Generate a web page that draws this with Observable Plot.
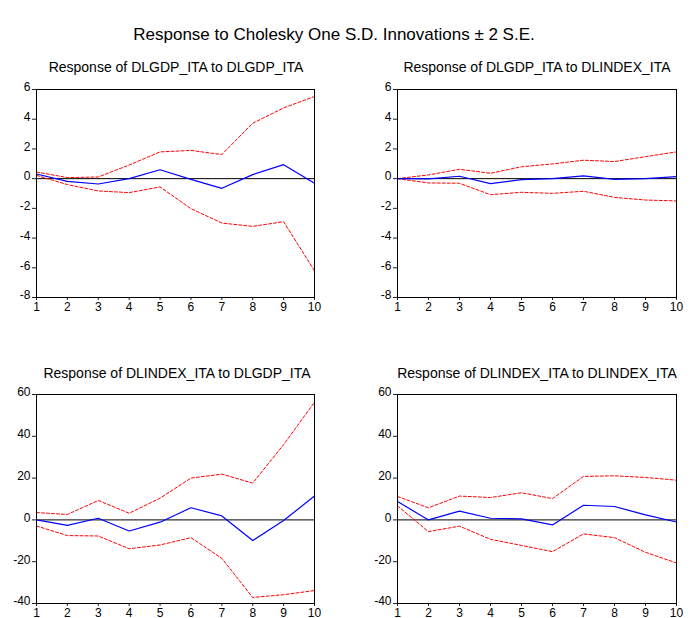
<!DOCTYPE html>
<html>
<head>
<meta charset="utf-8">
<script src="https://cdn.jsdelivr.net/npm/d3@7"></script>
<script src="https://cdn.jsdelivr.net/npm/@observablehq/plot@0.6"></script>
<style>
  html, body { margin: 0; padding: 0; background: white; }
  #root { position: relative; width: 691px; height: 618px; overflow: hidden; background: white; font-family: "Liberation Sans", Arial, sans-serif; color: #000; }
  .t { position: absolute; white-space: nowrap; transform: translate(-50%, -50%); }
  .panel { position: absolute; }
</style>
</head>
<body>
<div id="root"></div>
<script>
const mainTitle = "Response to Cholesky One S.D. Innovations \u00B1 2 S.E.";
const panelTitles = [
  "Response of DLGDP_ITA to DLGDP_ITA",
  "Response of DLGDP_ITA to DLINDEX_ITA",
  "Response of DLINDEX_ITA to DLGDP_ITA",
  "Response of DLINDEX_ITA to DLINDEX_ITA"
];
const horizon = [1, 2, 3, 4, 5, 6, 7, 8, 9, 10];

const gdpGdpResp  = [0.31, -0.18, -0.36, 0.0, 0.6, -0.05, -0.65, 0.27, 0.94, -0.31];
const gdpGdpUpper = [0.45, 0.07, 0.11, 0.92, 1.8, 1.9, 1.62, 3.73, 4.76, 5.53];
const gdpGdpLower = [0.22, -0.4, -0.83, -0.94, -0.56, -2.02, -2.99, -3.21, -2.9, -6.2];

const gdpIdxResp  = [0.0, -0.02, 0.16, -0.34, -0.07, 0.0, 0.18, -0.05, 0.0, 0.13];
const gdpIdxUpper = [0.0, 0.25, 0.63, 0.36, 0.8, 0.99, 1.24, 1.15, 1.48, 1.8];
const gdpIdxLower = [0.0, -0.29, -0.31, -1.08, -0.92, -0.99, -0.85, -1.26, -1.44, -1.5];

const idxGdpResp  = [0.0, -2.6, 0.8, -5.3, -1.1, 5.8, 1.9, -9.9, -0.3, 11.4];
const idxGdpUpper = [3.5, 2.6, 9.3, 3.2, 10.4, 20.0, 21.9, 17.6, 36.0, 56.3];
const idxGdpLower = [-2.9, -7.5, -7.7, -13.8, -12.0, -8.5, -18.4, -37.1, -35.8, -33.8];

const idxIdxResp  = [8.8, 0.0, 4.2, 0.8, 0.5, -2.4, 7.0, 6.4, 2.4, -1.0];
const idxIdxUpper = [11.2, 5.8, 11.4, 10.7, 13.0, 10.2, 20.8, 21.1, 20.3, 19.0];
const idxIdxLower = [6.7, -5.6, -3.0, -9.3, -12.2, -15.2, -6.7, -8.5, -15.5, -20.6];

const gdpTicks = [-8, -6, -4, -2, 0, 2, 4, 6];
const idxTicks = [-40, -20, 0, 20, 40, 60];

const root = document.getElementById("root");

function addText(txt, x, y, size) {
  const d = document.createElement("div");
  d.className = "t";
  d.style.left = x + "px";
  d.style.top = y + "px";
  d.style.fontSize = size + "px";
  d.textContent = txt;
  root.appendChild(d);
}

function makePanel(resp, upper, lower, ticks, box) {
  const rows = horizon.map((h, i) => ({h, resp: resp[i], upper: upper[i], lower: lower[i]}));
  const fmt = d => String(d);
  const chart = Plot.plot({
    width: box.width,
    height: box.height,
    marginLeft: box.ml,
    marginRight: box.mr,
    marginTop: box.mt,
    marginBottom: box.mb,
    style: {fontFamily: "'Liberation Sans', Arial, sans-serif", fontSize: "12px", color: "#000", background: "white", overflow: "visible"},
    x: {domain: [1, 10], label: null},
    y: {domain: [ticks[0], ticks[ticks.length - 1]], label: null},
    marks: [
      Plot.axisX({ticks: horizon, tickSize: 3, tickPadding: 2, tickFormat: fmt, stroke: "#222"}),
      Plot.axisY({ticks: ticks, tickSize: 4, text: null, stroke: "#222"}),
      Plot.axisY({ticks: ticks, tickSize: 0, tickPadding: 6, dy: -2, tickFormat: fmt}),
      Plot.ruleY([0], {stroke: "#000", strokeWidth: 1}),
      Plot.line(rows, {x: "h", y: "upper", stroke: "#ff0000", strokeWidth: 1, strokeDasharray: "3,2"}),
      Plot.line(rows, {x: "h", y: "lower", stroke: "#ff0000", strokeWidth: 1, strokeDasharray: "3,2"}),
      Plot.line(rows, {x: "h", y: "resp", stroke: "#0000ff", strokeWidth: 1.2}),
      Plot.frame({stroke: "#000", strokeWidth: 1})
    ]
  });
  chart.classList.add("panel");
  chart.style.left = box.left + "px";
  chart.style.top = box.top + "px";
  root.appendChild(chart);
}

addText(mainTitle, 334, 35, 17);
addText(panelTitles[0], 176, 67, 14);
addText(panelTitles[1], 537, 67, 14);
addText(panelTitles[2], 177, 373, 14);
addText(panelTitles[3], 537, 373, 14);

makePanel(gdpGdpResp, gdpGdpUpper, gdpGdpLower, gdpTicks,
  {left: 0, top: 80, width: 345, height: 237, ml: 36, mr: 31, mt: 9, mb: 20});
makePanel(gdpIdxResp, gdpIdxUpper, gdpIdxLower, gdpTicks,
  {left: 361, top: 80, width: 330, height: 237, ml: 36, mr: 15, mt: 9, mb: 20});
makePanel(idxGdpResp, idxGdpUpper, idxGdpLower, idxTicks,
  {left: 0, top: 385, width: 345, height: 238, ml: 36, mr: 31, mt: 9, mb: 20});
makePanel(idxIdxResp, idxIdxUpper, idxIdxLower, idxTicks,
  {left: 361, top: 385, width: 330, height: 238, ml: 36, mr: 15, mt: 9, mb: 20});
</script>
</body>
</html>
